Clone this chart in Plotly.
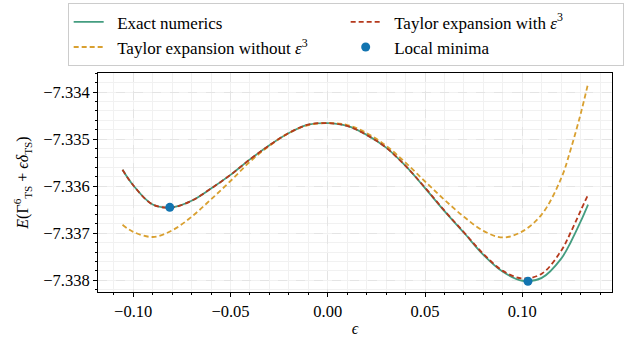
import plotly.graph_objects as go

# ---- data ----
eps = [-0.1055, -0.10, -0.09, -0.08, -0.07, -0.06, -0.05, -0.04, -0.03, -0.02, -0.01,
       0.00, 0.01, 0.02, 0.03, 0.04, 0.05, 0.06, 0.07, 0.08, 0.09, 0.10, 0.11, 0.12,
       0.125, 0.13, 0.1338]

exact = [-7.33565, -7.33598, -7.33639, -7.33645, -7.33631, -7.33605, -7.33576, -7.33543,
         -7.33513, -7.33487, -7.33469, -7.33466, -7.33472, -7.33491, -7.33518, -7.33557,
         -7.33604, -7.33653, -7.33699, -7.33746, -7.33782, -7.33801, -7.33795, -7.33754,
         -7.33718, -7.33675, -7.33639]

taylor_with = [-7.33565, -7.33598, -7.33639, -7.33645, -7.33631, -7.33605, -7.33576, -7.33543,
               -7.33513, -7.33487, -7.33469, -7.33466, -7.33472, -7.33491, -7.33518, -7.33557,
               -7.33603, -7.33652, -7.33698, -7.33744, -7.33780, -7.33796, -7.33786, -7.33737,
               -7.33697, -7.33652, -7.33618]

taylor_without = [-7.33682, -7.33697, -7.33708, -7.33694, -7.33665, -7.33628, -7.33589, -7.33548,
                  -7.33514, -7.33487, -7.33470, -7.33466, -7.33470, -7.33487, -7.33514, -7.33550,
                  -7.33590, -7.33629, -7.33665, -7.33695, -7.33709, -7.33696, -7.33660, -7.33583,
                  -7.33520, -7.33446, -7.33382]

min_eps = [-0.0812, 0.1029]
min_E = [-7.33645, -7.33802]

x_ticks = [-0.10, -0.05, 0.00, 0.05, 0.10]
y_ticks = [-7.338, -7.337, -7.336, -7.335, -7.334]

C_EXACT = "#449d80"
C_WITHOUT = "#d9a030"
C_WITH = "#b5391c"
C_MIN = "#1274b0"
SERIF = "Liberation Serif, DejaVu Serif, serif"
PAD = "\u2002"

fig = go.Figure()
fig.add_trace(go.Scatter(x=eps, y=exact, mode="lines", name=PAD + "Exact numerics",
                         line=dict(color=C_EXACT, width=1.8, shape="spline"), legendrank=1))
fig.add_trace(go.Scatter(x=eps, y=taylor_without, mode="lines",
                         name=PAD + "Taylor expansion without <i>ε</i><sup>3</sup>",
                         line=dict(color=C_WITHOUT, width=1.8, dash="5px,3px", shape="spline"),
                         legendrank=3))
fig.add_trace(go.Scatter(x=eps, y=taylor_with, mode="lines",
                         name=PAD + "Taylor expansion with <i>ε</i><sup>3</sup>",
                         line=dict(color=C_WITH, width=1.8, dash="5px,3px", shape="spline"),
                         legendrank=2))
fig.add_trace(go.Scatter(x=min_eps, y=min_E, mode="markers", name=PAD + "Local minima",
                         marker=dict(color=C_MIN, size=9), legendrank=4))

axis_common = dict(
    showline=True, linecolor="black", linewidth=1, mirror=True,
    ticks="outside", ticklen=4, tickcolor="black",
    showgrid=True, gridcolor="#e4e4e4", griddash="dash", gridwidth=1,
    zeroline=False,
    tickfont=dict(family=SERIF, size=16.5, color="black"),
)

fig.update_layout(
    width=641, height=337,
    margin=dict(l=98, r=29, t=73, b=45, autoexpand=False),
    paper_bgcolor="white", plot_bgcolor="white",
    font=dict(family=SERIF, color="black"),
    xaxis=dict(**axis_common, range=[-0.1181, 0.1461], tickvals=x_ticks, tickformat=".2f",
               automargin=False,
               minor=dict(dtick=0.01, tick0=0, ticks="outside", ticklen=2, tickcolor="black",
                          showgrid=True, gridcolor="#f1f1f1", gridwidth=1, griddash="solid"),
               title=dict(text="<i>ϵ</i>", font=dict(family=SERIF, size=16), standoff=10)),
    yaxis=dict(**axis_common, range=[-7.338249, -7.333594], tickvals=y_ticks, tickformat=".3f",
               automargin=False,
               minor=dict(dtick=0.0002, tick0=-7.334, ticks="outside", ticklen=2, tickcolor="black",
                          showgrid=True, gridcolor="#f1f1f1", gridwidth=1, griddash="solid"),
               title=dict(text="<i>E</i>(Γ<sup>6</sup><sub>TS</sub> + <i>ϵδ</i><sub>TS</sub>)",
                          font=dict(family=SERIF, size=16), standoff=10)),
    legend=dict(orientation="h", x=-0.059, y=1.318, xanchor="left", yanchor="top",
                entrywidth=232, entrywidthmode="pixels",
                bordercolor="#cccccc", borderwidth=1, bgcolor="white",
                font=dict(family=SERIF, size=17, color="black"),
                traceorder="normal"),
    showlegend=True,
)

fig.write_html("out.html")
